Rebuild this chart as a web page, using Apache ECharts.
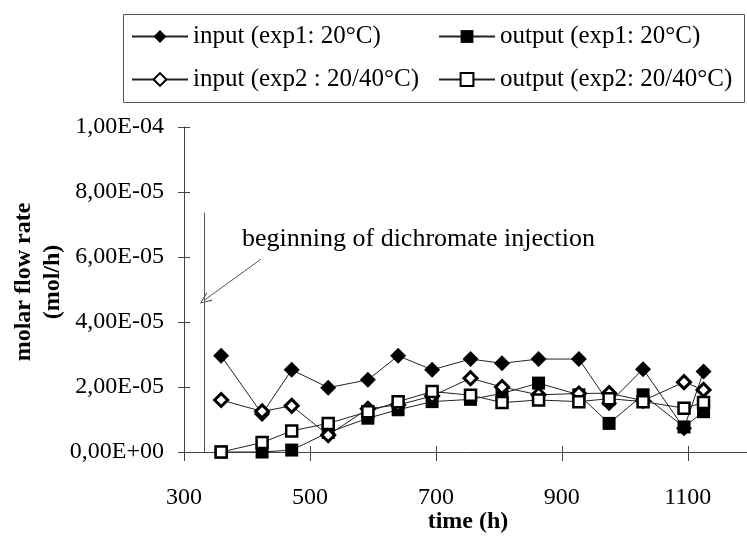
<!DOCTYPE html>
<html><head><meta charset="utf-8">
<script src="https://cdn.jsdelivr.net/npm/echarts@6/dist/echarts.min.js"></script>
<style>html,body{margin:0;padding:0;background:#fff}#c{width:747px;height:537px}</style>
</head><body><div id="c"></div>
<script>
// ---- data ----
const times = [359, 424, 471, 529, 592, 640, 694, 755, 805, 863, 927, 975, 1029, 1094, 1125];
const inputExp1  = [2.96e-5, 1.17e-5, 2.53e-5, 1.98e-5, 2.22e-5, 2.96e-5, 2.53e-5, 2.86e-5, 2.73e-5, 2.86e-5, 2.86e-5, 1.50e-5, 2.55e-5, 0.73e-5, 2.48e-5];
const outputExp1 = [0.00e-5, 0.00e-5, 0.06e-5, 0.60e-5, 1.04e-5, 1.30e-5, 1.55e-5, 1.62e-5, 1.80e-5, 2.12e-5, 1.76e-5, 0.88e-5, 1.76e-5, 0.77e-5, 1.24e-5];
const inputExp2  = [1.60e-5, 1.25e-5, 1.42e-5, 0.52e-5, 1.33e-5, 1.45e-5, 1.72e-5, 2.27e-5, 2.00e-5, 1.76e-5, 1.80e-5, 1.81e-5, 1.58e-5, 2.15e-5, 1.91e-5];
const outputExp2 = [0.00e-5, 0.29e-5, 0.65e-5, 0.88e-5, 1.24e-5, 1.55e-5, 1.86e-5, 1.75e-5, 1.52e-5, 1.60e-5, 1.55e-5, 1.64e-5, 1.55e-5, 1.35e-5, 1.52e-5];
const seriesNames = ['input (exp1: 20°C)', 'output (exp1: 20°C)', 'input (exp2 : 20/40°C)', 'output (exp2: 20/40°C)'];
const xTickValues = [300, 500, 700, 900, 1100];
const yTickLabels = ['0,00E+00', '2,00E-05', '4,00E-05', '6,00E-05', '8,00E-05', '1,00E-04'];
const injectionTime = 332;
const injectionLineTop = 7.36e-5;
const arrowFrom = [422, 5.93e-5];
const arrowTo = [333, 4.68e-5];
const annotationText = 'beginning of dichromate injection';
const xTitle = 'time (h)';
const yTitle = 'molar flow rate\n(mol/h)';

const FONT = 'Liberation Serif';
const pair = (xs, ys) => xs.map((x, i) => [x, ys[i]]);

const chart = echarts.init(document.getElementById('c'), null, {renderer: 'canvas'});

const X_MAX = 1194;
const baseX = {type: 'value', min: 300, max: X_MAX, interval: 200, gridIndex: 0, position: 'bottom', splitLine: {show: false}};
const baseY = {type: 'value', min: 0, max: 1e-4, interval: 2e-5, gridIndex: 0, position: 'left', splitLine: {show: false}};

const lineStyle = {color: '#222', width: 1};
function mkSeries(name, data, symbol, size, itemStyle, z) {
  return {name, type: 'line', data, symbol, symbolSize: size, showSymbol: true,
    lineStyle, itemStyle, z, animation: false, xAxisIndex: 0, yAxisIndex: 0,
    emphasis: {disabled: true}};
}

const chevron = 'path://M5,0 L10,12 L9,12.6 L5,2.2 L1,12.6 L0,12 Z';

const legendText = {fontFamily: FONT, fontSize: 25, color: '#000'};
function mkLegend(name, left, top) {
  return {data: [name], left, top, orient: 'horizontal', itemWidth: 56, itemHeight: 16,
    itemGap: 0, padding: 0, textStyle: legendText, selectedMode: false};
}

const isXTick = v => xTickValues.some(t => Math.abs(t - v) < 1e-6);

chart.setOption({
  backgroundColor: '#fff',
  animation: false,
  grid: {left: 184, top: 127, bottom: 85, right: 0, containLabel: false},
  xAxis: [
    Object.assign({}, baseX, {
      axisLine: {lineStyle: {color: '#444', width: 1}},
      axisTick: {show: true, inside: false, length: 9, lineStyle: {color: '#444'}},
      axisLabel: {margin: 34, fontFamily: FONT, fontSize: 24, color: '#000',
        showMaxLabel: false,
        formatter: v => isXTick(v) ? String(v) : ''}
    }),
    Object.assign({}, baseX, {
      axisLine: {show: false},
      axisTick: {show: true, inside: true, length: 6, lineStyle: {color: '#444'}},
      axisLabel: {show: false}
    })
  ],
  yAxis: [
    Object.assign({}, baseY, {
      axisLine: {show: true, lineStyle: {color: '#444', width: 1}},
      axisTick: {show: true, inside: false, length: 6, lineStyle: {color: '#444'}},
      axisLabel: {margin: 20, fontFamily: FONT, fontSize: 24, color: '#000',
        formatter: v => yTickLabels[Math.round(v / 2e-5)] || ''}
    }),
    Object.assign({}, baseY, {
      axisLine: {show: false},
      axisTick: {show: true, inside: true, length: 6, lineStyle: {color: '#444'}},
      axisLabel: {show: false}
    })
  ],
  legend: [
    mkLegend(seriesNames[0], 131, 24),
    mkLegend(seriesNames[1], 438, 24),
    mkLegend(seriesNames[2], 131, 67),
    mkLegend(seriesNames[3], 438, 67)
  ],
  graphic: [
    {type: 'rect', left: 121, top: 12, shape: {width: 621, height: 88},
      style: {fill: 'none', stroke: '#555', lineWidth: 1}, silent: true},
    {type: 'text', x: 242, y: 226, silent: true,
      style: {text: annotationText, fontFamily: FONT, fontSize: 26, fill: '#000',
        textAlign: 'left', textVerticalAlign: 'top'}},
    {type: 'text', x: 468, y: 522, silent: true,
      style: {text: xTitle, fontFamily: FONT, fontSize: 24, fontWeight: 'bold', fill: '#000',
        textAlign: 'center', textVerticalAlign: 'middle'}},
    {type: 'text', x: 38, y: 282, rotation: Math.PI / 2, silent: true,
      style: {text: yTitle, fontFamily: FONT, fontSize: 24, fontWeight: 'bold', fill: '#000',
        lineHeight: 29, textAlign: 'center', textVerticalAlign: 'middle'}}
  ],
  series: [
    Object.assign(mkSeries(seriesNames[0], pair(times, inputExp1), 'diamond', 16, {color: '#000'}, 2), {
      markLine: {silent: true, animation: false, label: {show: false},
        lineStyle: {color: '#555', width: 1, type: 'solid'},
        emphasis: {disabled: true},
        data: [
          [{coord: [injectionTime, 0], symbol: 'none'}, {coord: [injectionTime, injectionLineTop], symbol: 'none'}],
          [{coord: arrowFrom, symbol: 'none'}, {coord: arrowTo, symbol: chevron, symbolSize: [10, 12]}]
        ]}
    }),
    mkSeries(seriesNames[1], pair(times, outputExp1), 'rect', 13, {color: '#000'}, 3),
    mkSeries(seriesNames[2], pair(times, inputExp2), 'diamond', 13, {color: '#fff', borderColor: '#000', borderWidth: 3}, 4),
    mkSeries(seriesNames[3], pair(times, outputExp2), 'rect', 11, {color: '#fff', borderColor: '#000', borderWidth: 2.5}, 5)
  ]
});
</script>
</body></html>
